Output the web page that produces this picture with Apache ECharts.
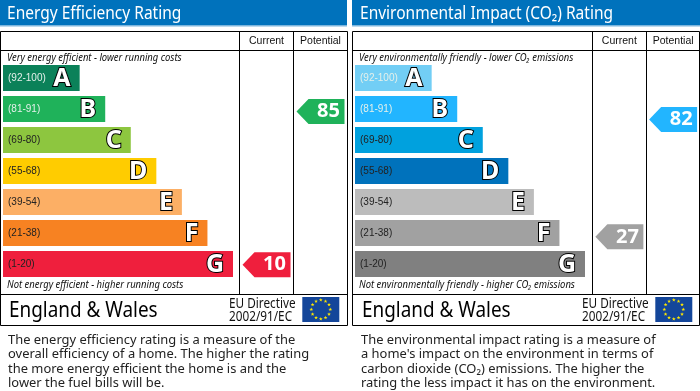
<!DOCTYPE html>
<html>
<head>
<meta charset="utf-8">
<style>
  html, body { margin: 0; padding: 0; background: #fff; }
  #chart { width: 700px; height: 391px; }
</style>
<script src="https://cdn.jsdelivr.net/npm/echarts@6/dist/echarts.min.js"></script>
</head>
<body>
<div id="chart"></div>
<script>
const letters = ['A', 'B', 'C', 'D', 'E', 'F', 'G']
const rangeLabels = ['(92-100)', '(81-91)', '(69-80)', '(55-68)', '(39-54)', '(21-38)', '(1-20)']
const bandLow = [92, 81, 69, 55, 39, 21, 1]
const bandHigh = [100, 91, 80, 68, 54, 38, 20]
const barLengths = [30, 40, 50, 60, 70, 80, 90]
const columnNames = ['Current', 'Potential']

const energyTitle = 'Energy Efficiency Rating'
const energyRatings = [10, 85] // current, potential
const energyColors = ['#0b8159', '#1fb25a', '#8dc63f', '#ffcc00', '#fcaf65', '#f78222', '#ef1f3d']
const energyTop = 'Very energy efficient - lower running costs'
const energyBottom = 'Not energy efficient - higher running costs'
const energyText = ['The energy efficiency rating is a measure of the', 'overall efficiency of a home. The higher the rating', 'the more energy efficient the home is and the', 'lower the fuel bills will be.']

const co2Title = 'Environmental Impact (CO₂) Rating'
const co2Ratings = [27, 82]
const co2Colors = ['#72cef5', '#22b5ff', '#00a1de', '#0072bc', '#bcbcbc', '#a1a1a1', '#808080']
const co2Top = 'Very environmentally friendly - lower CO₂ emissions'
const co2Bottom = 'Not environmentally friendly - higher CO₂ emissions'
const co2Text = ['The environmental impact rating is a measure of', "a home's impact on the environment in terms of", 'carbon dioxide (CO₂) emissions. The higher the', 'rating the less impact it has on the environment.']

const FONT = '"Noto Sans", "DejaVu Sans", sans-serif'
const SMALL_FONT = '"Liberation Sans", sans-serif'
const BAND = 31
const BAR = 26

// the arrow sits inside its band, in proportion to the rating
function ratingPos(rating) {
  const i = bandLow.findIndex((low) => rating >= low)
  const f = (bandHigh[i] - rating) / (bandHigh[i] - bandLow[i])
  return { band: i, pos: i + ((BAND - BAR) / 2 + BAR * f) / BAND }
}

function renderArrow(params, api) {
  const p = api.coord([api.value(0), api.value(1)])
  const left = p[0] - 24, right = p[0] + 24, h = 12.5
  return {
    type: 'group',
    children: [
      {
        type: 'polygon',
        shape: { points: [[left, p[1]], [left + 12, p[1] - h], [right, p[1] - h], [right, p[1] + h], [left + 12, p[1] + h]] },
        style: { fill: api.value(3) }
      },
      {
        type: 'text',
        style: { text: String(api.value(2)), x: left + 32, y: p[1], align: 'center', verticalAlign: 'middle', fill: '#fff', font: 'bold 20px ' + FONT }
      }
    ]
  }
}

const grid = []
const xAxis = []
const yAxis = []
const series = []
const graphic = []

// Noto runs wider than the original face, so texts get squeezed with scaleX
function addText(text, x, y, font, fill, scale) {
  graphic.push({
    type: 'text', z: 20, x: x, y: y, scaleX: scale || 1,
    style: { text: text, x: 0, y: 0, fill: fill || '#111', font: font + ' ' + FONT, verticalAlign: 'middle' }
  })
}

function addLine(x1, y1, x2, y2) {
  graphic.push({ type: 'line', z: 10, shape: { x1: x1, y1: y1, x2: x2, y2: y2 }, style: { stroke: '#000', lineWidth: 1 } })
}

function addFlag(x, y) {
  graphic.push({ type: 'rect', z: 10, shape: { x: x, y: y, width: 37, height: 25 }, style: { fill: '#14469a' } })
  for (let i = 0; i < 12; i++) {
    const a = i * Math.PI / 6
    const cx = x + 18.5 + 9.5 * Math.sin(a), cy = y + 12.5 - 9.5 * Math.cos(a)
    const pts = []
    for (let k = 0; k < 10; k++) {
      const r = k % 2 ? 0.8 : 2
      pts.push([cx + r * Math.sin(k * Math.PI / 5), cy - r * Math.cos(k * Math.PI / 5)])
    }
    graphic.push({ type: 'polygon', z: 11, shape: { points: pts }, style: { fill: '#ffe800' } })
  }
}

function addPanel(n, ox, barLeft, colLeft, title, colors, ratings, top, bottom, text) {
  const a = n * 2
  const tx = ox + n // right panel text sits 1px further in
  grid.push({ left: barLeft, top: 62.5, width: 230, height: 217 })
  grid.push({ left: colLeft, top: 62.5, width: 108, height: 217 })

  xAxis.push({ gridIndex: a, type: 'value', min: 0, max: 90, show: false })
  yAxis.push({
    gridIndex: a, type: 'category', inverse: true, data: rangeLabels, z: 5,
    axisLine: { show: false }, axisTick: { show: false }, splitLine: { show: false },
    axisLabel: {
      inside: true, margin: 5, fontFamily: SMALL_FONT, fontSize: 10, padding: [2, 0, 0, 0],
      color: (v, i) => (i < 2 ? '#e4f0ea' : '#222')
    }
  })
  xAxis.push({
    gridIndex: a + 1, type: 'category', position: 'top', data: columnNames,
    axisLine: { show: false }, axisTick: { show: false },
    axisLabel: { margin: 16, fontFamily: SMALL_FONT, fontSize: 10.5, color: '#111', interval: 0 }
  })
  yAxis.push({ gridIndex: a + 1, type: 'value', min: 0, max: 7, inverse: true, show: false })

  series.push({
    type: 'bar', xAxisIndex: a, yAxisIndex: a, barWidth: BAR, silent: true,
    data: barLengths.map((v, i) => ({ value: v, itemStyle: { color: colors[i] } })),
    label: {
      show: true, position: 'insideRight', distance: 9, offset: [0, 1],
      formatter: (p) => letters[p.dataIndex],
      color: '#fff', textBorderColor: '#000', textBorderWidth: 2,
      fontFamily: FONT, fontWeight: 'bold', fontSize: 25
    }
  })
  series.push({
    type: 'custom', xAxisIndex: a + 1, yAxisIndex: a + 1, silent: true, clip: false, z: 6,
    renderItem: renderArrow,
    data: ratings.map((r, i) => {
      const q = ratingPos(r)
      return [i, q.pos, r, colors[q.band]]
    })
  })

  // header band
  graphic.push({ type: 'rect', z: 1, shape: { x: ox, y: 0, width: n ? 348 : 347, height: 25 }, style: { fill: '#0072bc' } })
  graphic.push({ type: 'rect', z: 1, shape: { x: ox, y: 25, width: n ? 348 : 347, height: 1.5 }, style: { fill: '#7db6dd' } })
  addText(title, tx + 7, 14.5, '17.5px', '#fff', 0.887)

  // frame
  const l = ox + 0.5, r = ox + 347.5
  addLine(l, 31.5, r, 31.5)
  addLine(l, 31.5, l, 325.5)
  addLine(r, 31.5, r, 325.5)
  addLine(l, 325.5, r, 325.5)
  addLine(l, 50.5, r, 50.5)
  addLine(l, 294.5, r, 294.5)
  addLine(colLeft, 31.5, colLeft, 294.5)
  addLine(colLeft + 54, 31.5, colLeft + 54, 294.5)

  addText(top, barLeft + 4, 58.5, 'italic 10.5px', '#111', 0.9)
  addText(bottom, barLeft + 4, 285.5, 'italic 10.5px', '#111', 0.9)

  addText('England & Wales', tx + 9, 311.5, '21px', '#000', 0.9)
  addText('EU Directive', tx + 229, 304, '14px', '#111', 0.84)
  addText('2002/91/EC', tx + 229, 317.5, '14px', '#111', 0.84)
  addFlag(tx + 302.3, 297)

  text.forEach((t, i) => addText(t, tx + 8, 340 + i * 14.5, '13.2px', '#222', 0.98))
}

addPanel(0, 0, 3, 239.5, energyTitle, energyColors, energyRatings, energyTop, energyBottom, energyText)
addPanel(1, 352, 355, 592.5, co2Title, co2Colors, co2Ratings, co2Top, co2Bottom, co2Text)

const chartInstance = echarts.init(document.getElementById('chart'), null, { renderer: 'canvas' })
chartInstance.setOption({
  animation: false,
  grid: grid,
  xAxis: xAxis,
  yAxis: yAxis,
  series: series,
  graphic: graphic
})
</script>
</body>
</html>
